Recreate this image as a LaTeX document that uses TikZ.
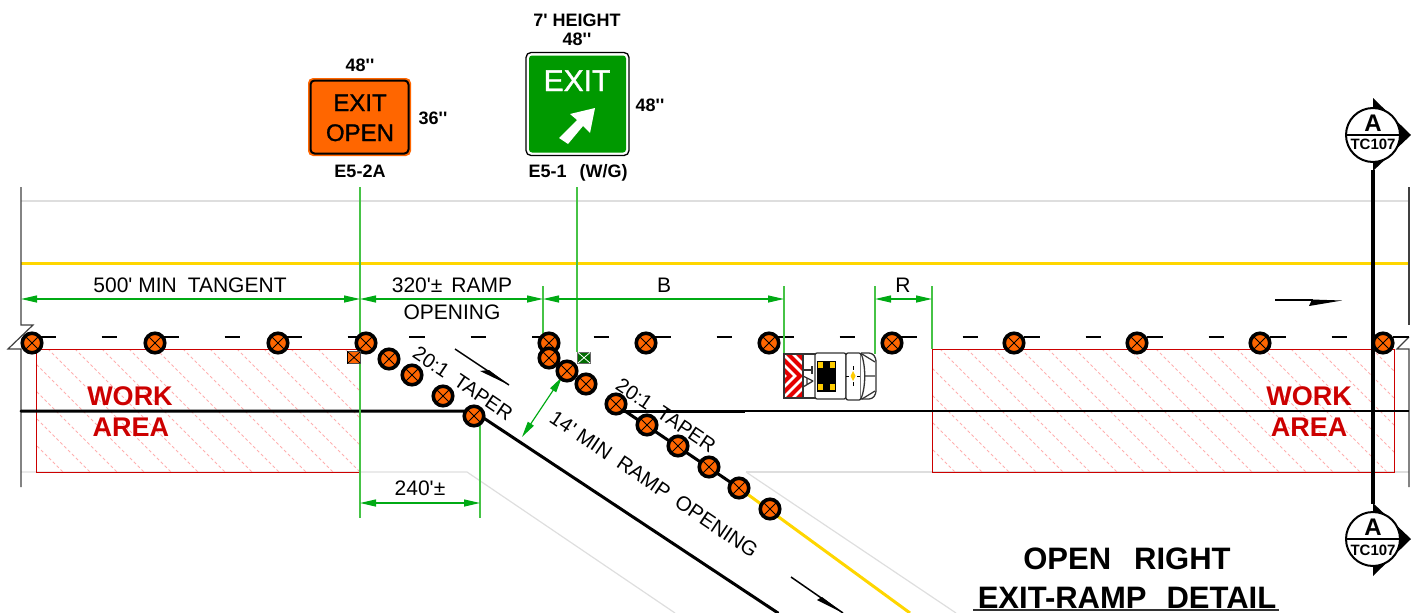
\documentclass[tikz,border=0pt]{standalone}
\usepackage{fontspec}
\newfontfamily\lib{Liberation Sans}
\newfontfamily\libm[FakeBold=1.2]{Liberation Sans}
\newcommand\fsz[1]{\fontsize{#1}{#1}\selectfont}
\usetikzlibrary{arrows.meta}
\definecolor{signorange}{RGB}{255,102,0}
\definecolor{signgreen}{RGB}{0,153,0}
\definecolor{lanegray}{RGB}{222,222,222}
\definecolor{edgeyellow}{RGB}{255,214,0}
\definecolor{dimgreen}{RGB}{0,170,20}
\definecolor{extgreen}{RGB}{70,195,70}
\definecolor{wred}{RGB}{204,0,0}
\definecolor{hatchpink}{RGB}{255,175,175}
\definecolor{markyellow}{RGB}{255,204,0}
\tikzset{
  txt/.style={inner sep=0pt,anchor=base,font=\lib\fsz{21}},
  btxt/.style={inner sep=0pt,anchor=base,font=\lib\bfseries\fsz{18}},
  worktxt/.style={inner sep=0pt,anchor=base,text=wred,font=\lib\bfseries\fsz{27}},
  titletxt/.style={inner sep=0pt,anchor=base,font=\lib\bfseries\fsz{31}},
  signtxt/.style={inner sep=0pt,anchor=base,font=\libm\fsz{24}},
  drum/.style={circle,draw=black,line width=3.6pt,fill=signorange,minimum size=19.5pt,inner sep=0pt,
    path picture={\draw[line width=.9pt] (path picture bounding box.north west)--(path picture bounding box.south east)
      (path picture bounding box.north east)--(path picture bounding box.south west);}},
  dim/.style={draw=dimgreen,line width=1.2pt,{Triangle[length=16pt,width=7pt,color=dimgreen]}-{Triangle[length=16pt,width=7pt,color=dimgreen]}},
  ext/.style={draw=extgreen,line width=1.5pt},
  secmark/.style={circle,draw=black,line width=2pt,fill=white,minimum size=54pt,inner sep=0pt},
  lane/.style={draw=lanegray,line width=1.2pt},
  workbox/.style={draw=wred,line width=1pt},
  hatch/.style={draw=hatchpink,line width=1pt,dash pattern=on 3pt off 2.5pt},
  edge/.style={draw=black,line width=3pt},
  truck/.style={draw=black!80,line width=1.3pt,fill=white},
}
\begin{document}
\begin{tikzpicture}[x=1pt,y=-1pt]
\useasboundingbox (0,0) rectangle (1411,613);
% lanes
\draw[lane] (21,201)--(1409,201);
\draw[lane] (21,472)--(467,472)--(675,613);
\draw[lane] (746,472)--(1409,472);
\draw[lane] (746,472)--(956,613);
\draw[draw=edgeyellow,line width=3pt] (21,263)--(1409,263);
% edge verticals and breaks
\draw[black!75,line width=1.2pt] (21,187)--(21,325)--(33,325)--(8,349)--(21,349)--(21,487);
\draw[black!75,line width=1.2pt] (1409,187)--(1409,325);
\draw[black!75,line width=1.2pt] (1397,337)--(1409,337) (1409,337)--(1397,349)--(1409,349)--(1409,487);
% lane dashes
\foreach \k in {0,...,22}{\draw[black,line width=2.5pt] ({40+61.5*\k},337)--({55.5+61.5*\k},337);}
% work areas
\begin{scope}
 \clip (36,349) rectangle (360,472);
 \foreach \k in {-5,...,12}{\draw[hatch] ({48+27*\k},349)--({48+27*\k+123},472);}
\end{scope}
\begin{scope}
 \clip (932,349) rectangle (1394,472);
 \foreach \k in {-5,...,17}{\draw[hatch] ({940+27*\k},349)--({940+27*\k+123},472);}
\end{scope}
\draw[workbox] (36,349) rectangle (360,472);
\draw[workbox] (932,349) rectangle (1394,472);
% pavement edges
\draw[edge,line cap=round] (21,411)--(473,411)--(778,613);
\draw[edge,line cap=round] (616,405)--(739,488);
\draw[edge] (616,411)--(745,411);
\draw[black,line width=2.5pt] (745,411)--(1409,411);
\draw[draw=edgeyellow,line width=3pt] (739,488)--(910,613);
% dimension extension lines
\coordinate (xa) at (360,187); \coordinate (xb) at (360,518);
\coordinate (xc) at (577,187); \coordinate (xd) at (577,352);
\coordinate (xe) at (543,286); \coordinate (xf) at (543,337);
\coordinate (xg) at (784,286); \coordinate (xh) at (784,354);
\coordinate (xi) at (875,286); \coordinate (xj) at (875,354);
\coordinate (xk) at (932,286); \coordinate (xl) at (932,349);
\coordinate (xm) at (480,420); \coordinate (xn) at (480,518);
\foreach \p/\q in {xa/xb,xc/xd,xe/xf,xg/xh,xi/xj,xk/xl,xm/xn}{\draw[ext] (\p)--(\q);}
\coordinate (d1) at (21,299); \coordinate (d2) at (360,299); \coordinate (d3) at (543,299);
\coordinate (d4) at (784,299); \coordinate (d5) at (875,299); \coordinate (d6) at (932,299);
\coordinate (d7) at (360,503); \coordinate (d8) at (480,503);
\coordinate (d9) at (562,377); \coordinate (d10) at (522,437);
\draw[dim] (d1)--(d2);
\draw[dim] (d2)--(d3);
\draw[dim] (d3)--(d4);
\draw[dim] (d5)--(d6);
\draw[dim] (d7)--(d8);
\draw[dim] (d9)--(d10);
% dimension texts
\node[txt] (t500) at (190,292) {500' MIN\hspace{11pt}TANGENT};
\node[txt] (t320) at (452,292) {320'±\hspace{9pt}RAMP};
\node[txt] (topen) at (452,319) {OPENING};
\node[txt] (tB) at (664,292) {B};
\node[txt] (tR) at (903,292) {R};
\node[txt] (t240) at (420,495) {240'±};
\node[txt,rotate=-34,font=\lib\fsz{20}] (tap1) at (459,389) {20:1\hspace{11pt}TAPER};
\node[txt,rotate=-34,font=\lib\fsz{20}] (tap2) at (662,421) {20:1\hspace{11pt}TAPER};
\node[txt,rotate=-34,font=\lib\fsz{20.5}] (t14) at (650,490) {14' MIN\hspace{11pt}RAMP\hspace{11pt}OPENING};
% traffic half arrows
\draw[black,line width=1.5pt] (455,349)--(509,385);
\fill[black] (509,385)--(480,371)--(489,370)--cycle;
\draw[black,line width=1.5pt] (791,577)--(843,613);
\fill[black] (843,613)--(817,600)--(822,597)--cycle;
\draw[black,line width=1.5pt] (1275,300)--(1313,300);
\fill[black] (1342,300.5)--(1309,306)--(1312,299.5)--cycle;
% drums
\foreach \n/\x/\y in {a/32/343,b/155/343,c/278/343,d/366/343,e/549/343,f/646/343,g/769/343,h/892/343,i/1014/343,j/1137/343,k/1260/343,l/1383/343,
 m/389/359,n/412/375,o/443/396,p/474/416,
 q/549/358,r/567/371,s/586/384,
 t/616/404,u/647/425,v/678/446,w/709/467,x/739/488,y/770/509}{
 \node[drum] (drum\n) at (\x,\y) {};}
% flagged signs on the road
\draw[black!70,line width=1pt,fill=signorange] (347.5,351.5) rectangle (360,363);
\draw[black,line width=.8pt] (348,352)--(360,363) (360,352)--(348,363);
\draw[black,line width=1.8pt] (347.5,351)--(347.5,364);
\draw[black!60,line width=1pt,fill=signgreen!70!black] (577.5,352) rectangle (590,363);
\draw[white,line width=.8pt] (578,352.5)--(590,363) (590,352.5)--(578,363);
% truck
\draw[truck] (803,354) rectangle (816,398);
\begin{scope}
 \clip (784,354) rectangle (803,398);
 \fill[white] (784,354) rectangle (803,398);
 \foreach \c in {790,800,810,820}{\draw[red!90!black,line width=4pt] ({\c-36},340)--(\c,376)--({\c-36},412);}
\end{scope}
\draw[black!80,line width=1.2pt] (784,354) rectangle (803,398);
\draw[black!80,line width=1.3pt] (803,370)--(812,370) (812,366)--(812,374);
\draw[black!80,line width=1.3pt] (813,381)--(803,376) (813,381)--(803,387) (807,378)--(807,385);
\draw[truck,rounded corners=2pt] (815,353) rectangle (846,399);
\fill[black] (817,361) rectangle (836,392);
\foreach \a/\b in {818/362,830/362,818/384,830/384}{\fill[markyellow] (\a,\b) rectangle ++(4.5,6);}
\draw[truck,rounded corners=2pt] (846,353) rectangle (861,400);
\draw[truck,rounded corners=3pt] (861,353) -- (872,353) -- (876,358) -- (876,394) -- (872,399) -- (861,399);
\draw[black!80,line width=1.3pt] (861,353)..controls (866,366) and (866,386)..(861,399);
\draw[black!80,line width=1.2pt] (862,354)--(875,362) (862,399)--(875,391) (864,376)--(875,376);
\fill[markyellow] (853,371)--(855.5,376)--(853,381)--(850.5,376)--cycle;
\draw[black,line width=.8pt] (853,366)--(853,370) (853,382)--(853,386) (849,376)--(846,376) (857,376)--(860,376);
% sign E5-2A
\fill[signorange] (308,78) [rounded corners=5pt] rectangle (411,156);
\draw[black,line width=2pt,rounded corners=4pt] (310.5,80.5) rectangle (408.5,153.5);
\node[signtxt] (sa1) at (360,111) {EXIT};
\node[signtxt] (sa2) at (360,141) {OPEN};
\node[btxt] (sa3) at (360,71) {48'{}'};
\node[btxt] (sa4) at (433,124) {36'{}'};
\node[btxt] (sa5) at (360,177) {E5-2A};
% sign E5-1
\draw[black,line width=1.3pt,fill=white,rounded corners=5pt] (526,52.5) rectangle (629,155.5);
\fill[signgreen,rounded corners=3pt] (529,55.5) rectangle (626,152.5);
\node[signtxt,text=white,font=\libm\fsz{30}] (sb1) at (577,91) {EXIT};
\fill[white] (559,138)--(577,120)--(570,114)--(595,108)--(590,133)--(583,126)--(568,144)--cycle;
\node[btxt] (sb2) at (577,26.5) {7' HEIGHT};
\node[btxt] (sb3) at (577,45) {48'{}'};
\node[btxt] (sb4) at (650,111) {48'{}'};
\node[btxt] (sb5) at (578,177) {E5-1\hspace{13pt}(W/G)};
% work area text
\node[worktxt] (wa1) at (130,405) {WORK};
\node[worktxt] (wa2) at (131,436) {AREA};
\node[worktxt] (wb1) at (1309,405) {WORK};
\node[worktxt] (wb2) at (1309,436) {AREA};
% section line
\coordinate (stop) at (1373,170); \coordinate (sbot) at (1373,504);
\draw[black,line width=4pt] (stop)--(sbot);
\fill[black] (1373,98)--(1411,135)--(1373,171)--cycle;
\fill[black] (1373,503)--(1411,539)--(1373,576)--cycle;
\node[secmark] (secT) at (1373,135) {};
\node[secmark] (secB) at (1373,539) {};
\draw[black,line width=2pt] (secT.west)--(secT.east) (secB.west)--(secB.east);
\node[txt,font=\lib\bfseries\fsz{24}] (sta) at (1373,131) {A};
\node[txt,font=\lib\bfseries\fsz{15}] (stb) at (1373,149) {TC107};
\node[txt,font=\lib\bfseries\fsz{24}] (sba) at (1373,535) {A};
\node[txt,font=\lib\bfseries\fsz{15}] (sbb) at (1373,555) {TC107};
% title
\node[titletxt] (ti1) at (1127,569) {OPEN\hspace{23pt}RIGHT};
\node[titletxt] (ti2) at (1127,608) {EXIT-RAMP\hspace{20pt}DETAIL};
\coordinate (ul1) at (973,610); \coordinate (ul2) at (1279,610);
\draw[black!80,line width=1.5pt] (ul1)--(ul2);
\end{tikzpicture}
\end{document}
